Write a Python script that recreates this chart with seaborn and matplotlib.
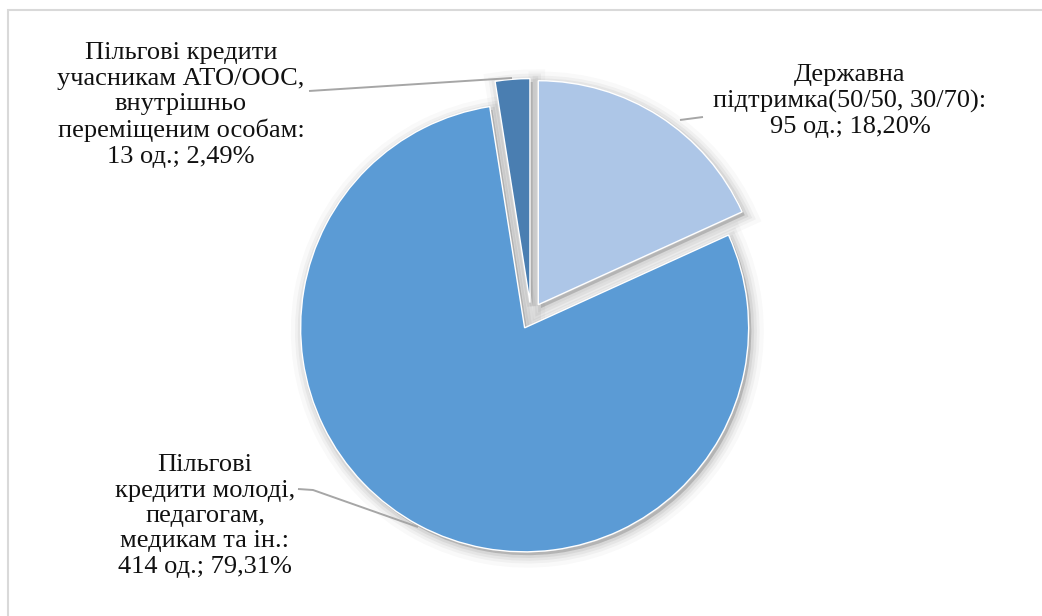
import matplotlib
matplotlib.use("Agg")
import matplotlib.pyplot as plt
from matplotlib.patches import Rectangle
import seaborn as sns

# Loan programme breakdown (number of loans)
categories = [
    "Державна\nпідтримка(50/50, 30/70)",
    "Пільгові\nкредити молоді,\nпедагогам,\nмедикам та ін.",
    "Пільгові кредити\nучасникам АТО/ООС,\nвнутрішньо\nпереміщеним особам",
]
counts = [95, 414, 13]
percents = ["18,20%", "79,31%", "2,49%"]

sns.set_theme(style="white")
plt.rcParams["font.family"] = ["Liberation Serif", "DejaVu Serif"]

W, H = 1042, 616
CX, CY, R = 531, 316, 224  # pie centre and radius in pixels


def to_data(x, y):
    return (x - CX) / R, (CY - y) / R


fig = plt.figure(figsize=(W / 100, H / 100), dpi=100)
ax = fig.add_axes([0, 0, 1, 1])

palette = sns.color_palette(["#adc6e7", "#5b9bd5", "#4a7eb1"])
explode = [0.06, 0.06, 0.06]

# soft drop shadow underneath the wedges
for lw, a in [(18, 0.025), (12, 0.035), (8, 0.045), (4, 0.06)]:
    ax.pie(counts, startangle=90, counterclock=False, explode=explode,
           center=(0.012, -0.015), radius=1, colors=["#000000"] * 3,
           wedgeprops=dict(linewidth=lw, edgecolor="#000000", alpha=a))

ax.pie(counts, startangle=90, counterclock=False, explode=explode,
       center=(0, 0), radius=1, colors=palette,
       wedgeprops=dict(linewidth=1.0, edgecolor="white"))
ax.set_xlim(-CX / R, (W - CX) / R)
ax.set_ylim(-(H - CY) / R, CY / R)
ax.set_aspect("equal")
ax.axis("off")

labels = [f"{c}:\n{n} од.; {p}" for c, n, p in zip(categories, counts, percents)]
label_pos = [(850, 101), (205, 516), (181, 105)]
for text, (lx, ly) in zip(labels, label_pos):
    ax.text(*to_data(lx, ly), text, ha="center", va="center",
            multialignment="center", fontsize=19, linespacing=1.2,
            color="#111111")

# leader lines
leaders = [
    [(680, 120), (703, 117)],
    [(298, 489), (313, 490), (418, 527)],
    [(309, 91), (512, 78)],
]
for pts in leaders:
    xs, ys = zip(*[to_data(x, y) for x, y in pts])
    ax.plot(xs, ys, color="#a6a6a6", linewidth=1.4, solid_capstyle="butt")

# chart-area frame
fig.patches.append(Rectangle((8 / W, -0.1), 1.2, 1.1 - 10 / H,
                             transform=fig.transFigure, fill=False,
                             edgecolor="#d9d9d9", linewidth=1.5))

fig.savefig("out.png", dpi=100)
